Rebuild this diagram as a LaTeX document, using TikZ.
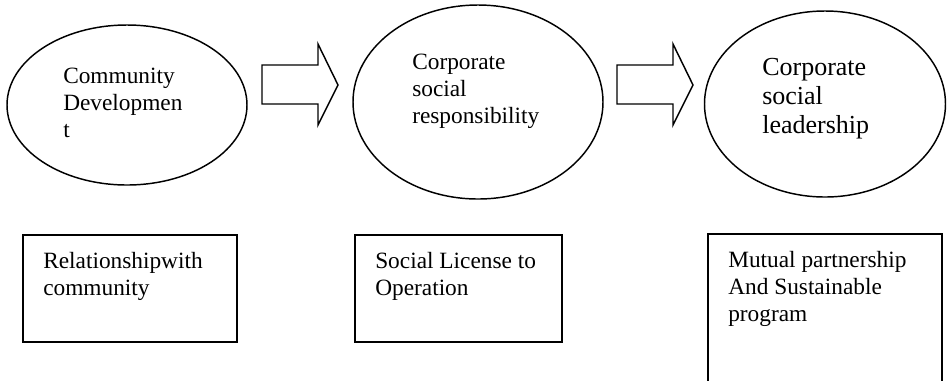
\documentclass[tikz,border=0pt]{standalone}
\usepackage{fontspec}
\setmainfont{Liberation Serif}
\usetikzlibrary{shapes.geometric}
\tikzset{
  stage/.style={draw, ellipse, line width=1.1pt, inner sep=0pt},
  note/.style={anchor=base west, align=left, inner sep=0pt, font=\fontsize{17.5}{20.25}\selectfont},
  bignote/.style={note, font=\fontsize{19.5}{21.4}\selectfont},
  outcome/.style={draw, line width=1.5pt, inner sep=0pt, anchor=north west},
  flow/.style={draw, line width=1.1pt, line join=miter},
}
\begin{document}
\begin{tikzpicture}[x=0.75pt,y=-0.75pt]
      \def\px{0.75pt}
      \useasboundingbox (0,0) rectangle (947,380);

      % stages
      \node[stage, minimum width=240*\px, minimum height=160*\px] (cd) at (127,105) {};
      \node[stage, minimum width=250*\px, minimum height=194*\px] (csr) at (478,102) {};
      \node[stage, minimum width=241*\px, minimum height=186*\px] (csl) at (825,104) {};

      % texts sit on the baseline of their last line
      \node[note] (cdtext) at (63,137) {Community\\Developmen\\t};
      \node[note] (csrtext) at (412,123) {Corporate\\social\\responsibility};
      \node[bignote] (csltext) at (762,133) {Corporate\\social\\leadership};

      % block arrows between the stages
      \foreach \i in {0,1} {
                  \draw[flow, shift={(\i*355,0)}] (262,65) -- (318,65) -- (318,44) -- (338,85) -- (318,125) -- (318,104) -- (262,104) -- cycle;
            }

      % outcomes
      \node[outcome, minimum width=214*\px, minimum height=107*\px] (rel) at (22,234) {};
      \node[outcome, minimum width=207*\px, minimum height=107*\px] (lic) at (354,234) {};
      \node[inner sep=0pt, anchor=north west, minimum width=233*\px, minimum height=150*\px] (mut) at (708,234) {};
      \draw[line width=1.5pt] (mut.south west) -- (mut.north west) -- (mut.north east) -- (mut.south east);

      \node[note] (reltext) at (43,295) {Relationshipwith\\community};
      \node[note] (lictext) at (375,295) {Social License to\\Operation};
      \node[note] (muttext) at (728,321) {Mutual partnership\\And Sustainable\\program};
\end{tikzpicture}
\end{document}
